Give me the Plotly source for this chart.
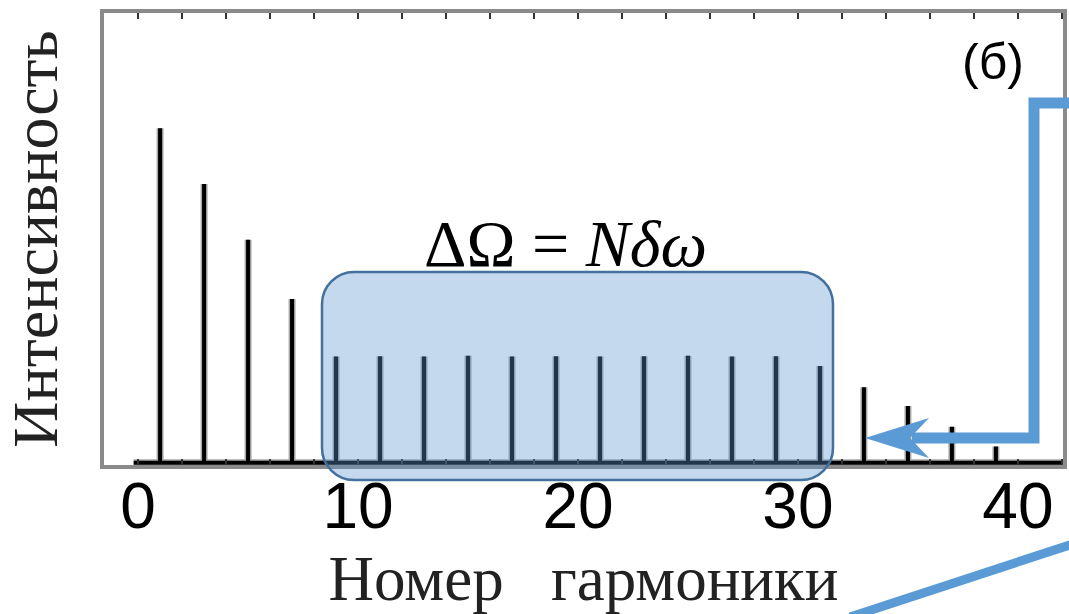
import plotly.graph_objects as go

# ---- data ----
harmonics = list(range(1, 40, 2))  # odd harmonic orders 1..39
intensity = [0.744, 0.620, 0.496, 0.364,
             0.236, 0.237, 0.236, 0.238, 0.236, 0.237, 0.236, 0.237, 0.238, 0.236, 0.237,
             0.215, 0.168, 0.126, 0.080, 0.036]
x_tick_vals = [0, 10, 20, 30, 40]
x_title = "Номер\u00a0\u00a0\u00a0гармоники"
y_title = "Интенсивность"
formula = "ΔΩ = <i>Nδω</i>"
panel_label = "(б)"

# ---- figure geometry (pixels) ----
W, H = 1069, 614
L, R, T, B = 104, 1063, 13, 465


def px(x):
    return (x - L) / (R - L)


def py(y):
    return (B - y) / (B - T)


# spectrum as a line: baseline with narrow spikes at each harmonic
xs, ys = [-0.2], [0.0]
for h, v in zip(harmonics, intensity):
    xs += [h, h, h]
    ys += [0.0, v, 0.0]
xs.append(42.5)
ys.append(0.0)

fig = go.Figure()
# soft grey halo of the scanned spikes
fig.add_trace(go.Scatter(x=xs, y=ys, mode="lines",
                         line=dict(color="#a8a8a8", width=7),
                         hoverinfo="skip", showlegend=False))
fig.add_trace(go.Scatter(x=xs, y=ys, mode="lines",
                         line=dict(color="black", width=4),
                         hoverinfo="skip", showlegend=False))

frame = "#8a8a8a"
fig.update_layout(
    width=W, height=H,
    margin=dict(l=L, r=W - R, t=T, b=H - B),
    paper_bgcolor="white", plot_bgcolor="white",
    showlegend=False,
    xaxis=dict(range=[-1.55, 42.05], tickmode="array", tickvals=x_tick_vals,
               ticks="inside", ticklen=6, tickwidth=2, tickcolor="#333",
               minor=dict(dtick=2, tick0=0, ticks="inside", ticklen=6, tickwidth=2, tickcolor="#333"),
               mirror="allticks", showline=True, linecolor=frame, linewidth=4,
               showgrid=False, zeroline=False, automargin=False,
               tickfont=dict(family="Liberation Sans", size=64, color="black"),
               ticklabelstandoff=-18,
               title=dict(text=x_title, standoff=30,
                          font=dict(family="Liberation Serif", size=63, color="#222"))),
    yaxis=dict(range=[-0.005, 1.0], showticklabels=False, ticks="",
               mirror=True, showline=True, linecolor=frame, linewidth=4,
               showgrid=False, zeroline=False, automargin=False,
               title=dict(text=y_title, standoff=24,
                          font=dict(family="Liberation Serif", size=64, color="#222"))),
)

# annotations
fig.add_annotation(text=panel_label, xref="paper", yref="paper", x=px(993), y=py(62),
                   xanchor="center", yanchor="middle", showarrow=False,
                   font=dict(family="Liberation Sans", size=50, color="black"))
fig.add_annotation(text=formula, xref="paper", yref="paper", x=px(565), y=py(243),
                   xanchor="center", yanchor="middle", showarrow=False,
                   font=dict(family="Liberation Serif", size=66, color="black"))

# rounded rectangle (semi-transparent blue)
x0, x1, y0, y1, r = 322, 833, 272, 480, 32
k = 0.5523 * r
pts = [
    ("M", [(x0 + r, y0)]),
    ("L", [(x1 - r, y0)]),
    ("C", [(x1 - r + k, y0), (x1, y0 + r - k), (x1, y0 + r)]),
    ("L", [(x1, y1 - r)]),
    ("C", [(x1, y1 - r + k), (x1 - r + k, y1), (x1 - r, y1)]),
    ("L", [(x0 + r, y1)]),
    ("C", [(x0 + r - k, y1), (x0, y1 - r + k), (x0, y1 - r)]),
    ("L", [(x0, y0 + r)]),
    ("C", [(x0, y0 + r - k), (x0 + r - k, y0), (x0 + r, y0)]),
]
path = ""
for cmd, ps in pts:
    path += cmd + " " + " ".join(f"{px(a):.5f},{py(b):.5f}" for a, b in ps) + " "
path += "Z"
fig.add_shape(type="path", path=path, xref="paper", yref="paper", layer="above",
              fillcolor="rgba(92,151,207,0.36)", line=dict(color="#41719c", width=2.5))

# blue arrow
blue = "#5b9bd5"
arrow = (f"M {px(1085):.5f},{py(103):.5f} L {px(1034):.5f},{py(103):.5f} "
         f"L {px(1034):.5f},{py(438):.5f} L {px(912):.5f},{py(438):.5f}")
fig.add_shape(type="path", path=arrow, xref="paper", yref="paper", layer="above",
              fillcolor="rgba(0,0,0,0)", line=dict(color=blue, width=11))
head = (f"M {px(865):.5f},{py(438):.5f} L {px(929):.5f},{py(418):.5f} "
        f"L {px(910):.5f},{py(438):.5f} L {px(929):.5f},{py(458):.5f} Z")
fig.add_shape(type="path", path=head, xref="paper", yref="paper", layer="above",
              fillcolor=blue, line=dict(width=0))
# diagonal connector line at the bottom right
fig.add_shape(type="line", xref="paper", yref="paper", layer="above",
              x0=px(850), y0=py(617), x1=px(1085), y1=py(540),
              line=dict(color=blue, width=9))

fig.write_html("out.html", config={"displayModeBar": False},
               post_script="document.body.style.margin='0';document.body.style.overflow='hidden';")
